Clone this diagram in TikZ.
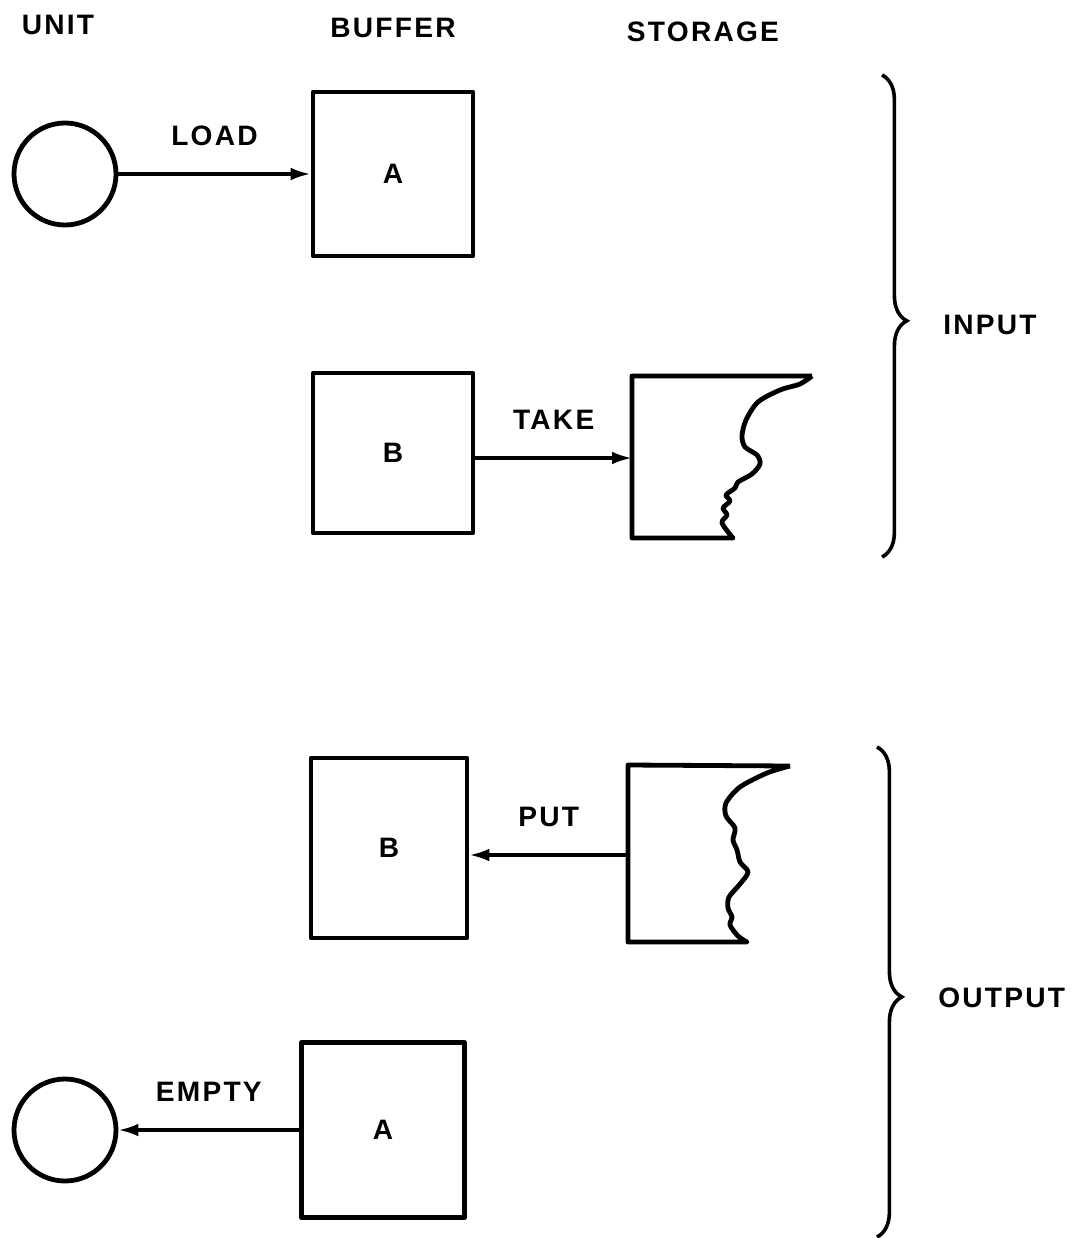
\documentclass[tikz,border=0pt]{standalone}
\usepackage{fontspec}
\setsansfont{Liberation Sans}[LetterSpace=8]
\usetikzlibrary{arrows.meta}
\usetikzlibrary{decorations.pathreplacing}
\usetikzlibrary{positioning}
\tikzset {
  % every stroke of the chart
  chart line/.style = {
    draw = black,
    line width = 1.2mm,
    line join = round
  },
  % connector with a filled head at its end
  arr/.style = {
    draw = black,
    line width = 0.85mm,
    -{Latex[length = 5mm, width = 3.2mm]}
  },
  % curly bracket grouping a phase
  bracket/.style = {
    draw = black,
    line width = 0.9mm,
    decorate,
    decoration = {brace, amplitude = 6.2mm, aspect = 0.51}
  }
}
\tikzset {
  lettering/.style = {
    font = \sffamily\bfseries\fontsize{20}{24}\selectfont,
    inner sep = 0
  },
  % peripheral unit
  unit/.style = {
    chart line,
    circle,
    minimum size = 25.5mm,
    inner sep = 0
  },
  % buffer area
  buffer/.style = {
    chart line,
    rectangle,
    lettering,
    minimum width = 40mm,
    minimum height = 40mm
  },
  % text above a connector
  verb/.style = {
    lettering,
    midway,
    yshift = 9.5mm
  }
}

\begin{document}
\begin{tikzpicture}[x = 0.25mm, y = -0.25mm]
    \useasboundingbox (0,0) rectangle (1083,1238);

    % column headings
    \node[lettering] (hunit) at (58,25) {UNIT};
    \node[lettering] (hbuffer) at (393,28) {BUFFER};
    \node[lettering] (hstorage) at (703,32) {STORAGE};

    % input phase
    \node[unit] (unitin) at (65,174) {};
    \node[buffer, minimum height = 41mm] (bufina) at (393,174) {A};
    \node[buffer] (bufinb) at (393,453) {B};
    \coordinate (storin) at (632,458);
    \draw[chart line] (812,376) -- (632,376) -- (632,538) -- (733,538)
      -- plot[smooth] coordinates {(733,538) (722,523) (727,515) (723,508)
        (730,501) (726,495) (735,488) (738,482) (752,474) (760,464)
        (757,455) (745,447) (742,436) (746,420) (758,402) (780,390)
        (800,384) (812,376)};

    \draw[arr] (unitin) -- node[verb] {LOAD} (bufina);
    \draw[arr] (storin -| bufinb.east) -- node[verb] {TAKE} (storin);

    % output phase
    \node[buffer, minimum width = 39mm, minimum height = 45mm] (bufoutb) at (389,848) {B};
    \node[buffer, minimum width = 40.7mm, minimum height = 43.7mm] (bufouta) at (383,1130) {A};
    \node[unit] (unitout) at (65,1130) {};
    \coordinate (storout) at (628,855);
    \draw[chart line] (790,766) -- (628,765) -- (628,942) -- (747,942)
      -- plot[smooth] coordinates {(747,942) (738,936) (730,925) (732,917)
        (728,908) (729,897) (740,884) (748,872) (740,862) (737,850)
        (733,840) (735,828) (726,816) (726,803) (740,787) (767,773)
        (790,766)};

    \draw[arr] (storout) -- node[verb] {PUT} (storout -| bufoutb.east);
    \draw[arr] (bufouta) -- node[verb] {EMPTY} (unitout);

    % phase brackets
    \draw[bracket] (882,75) -- (882,557);
    \node[lettering, anchor = west] (input) at (943,325) {INPUT};
    \draw[bracket] (877,747) -- (877,1237);
    \node[lettering, anchor = west] (output) at (938,998) {OUTPUT};
\end{tikzpicture}
\end{document}
